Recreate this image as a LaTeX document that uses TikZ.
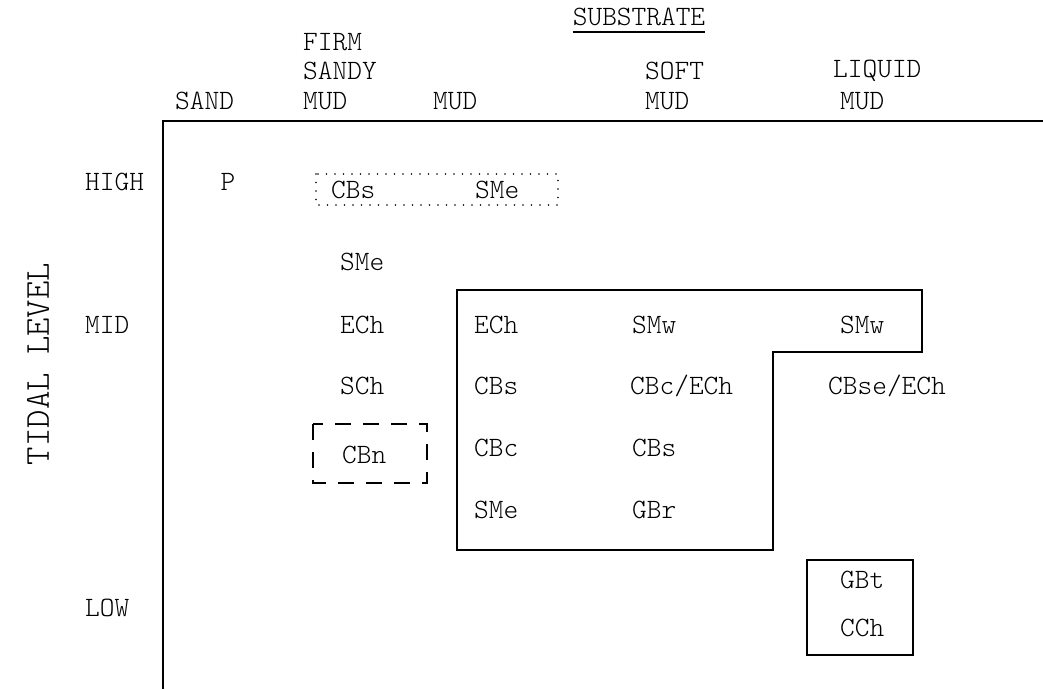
\documentclass[tikz,border=0pt]{standalone}
\usepackage{fontspec}
\newfontfamily\typew{Latin Modern Mono Light}
\begin{document}
\begin{tikzpicture}[x=1pt,y=-1pt,
  lbl/.style={anchor=west,inner sep=0pt,font=\typew\fontsize{28}{32}\selectfont},
  ctr/.style={anchor=center,inner sep=0pt,font=\typew\fontsize{28}{32}\selectfont},
  axis/.style={line width=2.2pt},
  boxline/.style={line width=1.5pt},
  dotbox/.style={line width=1.8pt,line cap=round,dash pattern=on 0pt off 8.5pt},
  dashbox/.style={line width=1.5pt,dash pattern=on 16pt off 12pt}]
\useasboundingbox (0,0) rectangle (1043,689);
% title
\node[ctr] (sub) at (639,17) {SUBSTRATE};
\draw[line width=1.2pt] (sub.south west)++(0,6) coordinate (u1) -- (sub.south east |- u1) coordinate (u2);
% column headers
\node[lbl] (h1) at (175,101) {SAND};
\node[lbl] (h2a) at (303,42) {FIRM};
\node[lbl] (h2b) at (303,71) {SANDY};
\node[lbl] (h2c) at (303,101) {MUD};
\node[lbl] (h3) at (433,101) {MUD};
\node[lbl] (h4a) at (645,71) {SOFT};
\node[lbl] (h4b) at (645,101) {MUD};
\node[lbl] (h5a) at (833,71) {LIQUID};
\node[lbl] (h5b) at (840,101) {MUD};
% axes
\coordinate (o) at (163,121);
\coordinate (xr) at (1043,121);
\coordinate (yb) at (163,689);
\draw[axis] (xr) -- (o) -- (yb);
% row labels
\node[lbl] (high) at (85,182) {HIGH};
\node[lbl] (mid) at (85,325) {MID};
\node[lbl] (low) at (85,608) {LOW};
\node[ctr,rotate=90,font=\typew\fontsize{35}{40}\selectfont] (tidal) at (38,364) {TIDAL LEVEL};
% entries
\node[ctr] (p) at (228,182) {P};
\node[lbl] (e1) at (331,190) {CBs};
\node[lbl] (e2) at (475,190) {SMe};
\node[lbl] (e3) at (340,262) {SMe};
\node[lbl] (e4) at (340,325) {ECh};
\node[lbl] (e5) at (340,386) {SCh};
\node[lbl] (e6) at (342,455) {CBn};
\node[lbl] (m1) at (474,325) {ECh};
\node[lbl] (m2) at (474,386) {CBs};
\node[lbl] (m3) at (474,448) {CBc};
\node[lbl] (m4) at (474,510) {SMe};
\node[lbl] (s1) at (632,325) {SMw};
\node[lbl] (s2) at (630,386) {CBc/ECh};
\node[lbl] (s3) at (632,448) {CBs};
\node[lbl] (s4) at (632,510) {GBr};
\node[lbl] (l1) at (840,325) {SMw};
\node[lbl] (l2) at (828,386) {CBse/ECh};
\node[lbl] (l3) at (840,580) {GBt};
\node[lbl] (l4) at (840,628) {CCh};
% boxes
\draw[dotbox] (316,174) rectangle (558,205);
\draw[dashbox] (313,424) rectangle (427,483);
\draw[boxline] (457,290) -- (922,290) -- (922,352) -- (773,352) -- (773,550) -- (457,550) -- cycle;
\draw[boxline] (807,560) rectangle (913,655);
\end{tikzpicture}
\end{document}
